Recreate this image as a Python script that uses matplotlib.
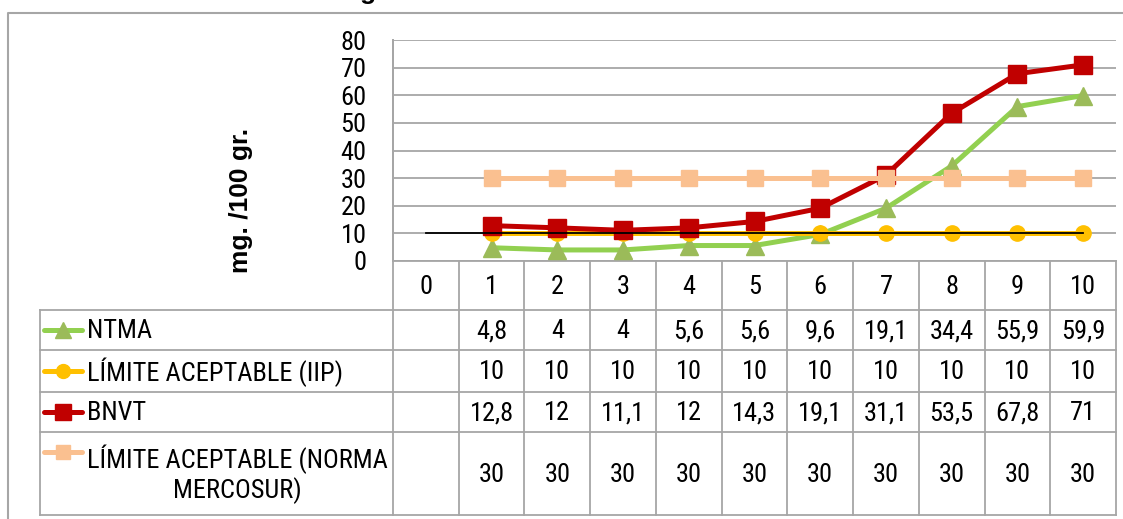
import matplotlib
matplotlib.use("Agg")
import matplotlib.pyplot as plt
from matplotlib import font_manager

# data
categories = [0, 1, 2, 3, 4, 5, 6, 7, 8, 9, 10]
days = [1, 2, 3, 4, 5, 6, 7, 8, 9, 10]
ntma = [4.8, 4, 4, 5.6, 5.6, 9.6, 19.1, 34.4, 55.9, 59.9]
limite_iip = [10, 10, 10, 10, 10, 10, 10, 10, 10, 10]
bnvt = [12.8, 12, 11.1, 12, 14.3, 19.1, 31.1, 53.5, 67.8, 71]
limite_mercosur = [30, 30, 30, 30, 30, 30, 30, 30, 30, 30]
ref_x = [0, 10]
ref_y = [10, 10]
y_ticks = [0, 10, 20, 30, 40, 50, 60, 70, 80]
series_labels = ["NTMA", "LÍMITE ACEPTABLE (IIP)", "BNVT",
                 "LÍMITE ACEPTABLE (NORMA\nMERCOSUR)"]

# pick a narrow face if one is there, else plain Arial metrics
names = {f.name for f in font_manager.fontManager.ttflist}
narrow_faces = [n for n in ["Liberation Sans Narrow", "Arial Narrow", "Roboto Condensed",
                            "Open Sans Condensed", "Noto Sans Condensed"] if n in names]
if narrow_faces:
    NARROW = [narrow_faces[0], "DejaVu Sans"]
    FS = 19
else:
    NARROW = ["Liberation Sans", "DejaVu Sans"]
    FS = 17
ARIAL = ["Liberation Sans", "DejaVu Sans"]
GRID = "#a6a6a6"

W, H = 1123, 519
fig = plt.figure(figsize=(W / 100, H / 100), dpi=100)

# pixel layout
L, R, T, B = 393, 1116, 40, 261
ax = fig.add_axes([L / W, 1 - B / H, (R - L) / W, (B - T) / H])

styles = [
    (ntma, dict(color="#92d050", marker="^", mfc="#9bbb59", mec="#9bbb59", ms=13)),
    (limite_iip, dict(color="#ffc000", marker="o", mfc="#ffc000", mec="#ffc000", ms=11)),
    (bnvt, dict(color="#c00000", marker="s", mfc="#c00000", mec="#c00000", ms=13)),
    (limite_mercosur, dict(color="#fac090", marker="s", mfc="#fac090", mec="#fac090", ms=11)),
]
for z, (vals, st) in enumerate(styles):
    ax.plot(days, vals, lw=3.6, zorder=3 + z, clip_on=False, **st)
ax.plot(ref_x, ref_y, color="black", lw=1.3, zorder=10)

ax.set_xlim(-0.5, 10.5)
ax.set_ylim(0, 80)
ax.set_xticks([])
ax.set_yticks(y_ticks)
ax.set_yticklabels([str(t) for t in y_ticks], family=NARROW, fontsize=FS)
ax.tick_params(axis="y", length=0, pad=19)
ax.grid(axis="y", color=GRID, lw=1.3)
for s in ["top", "right", "bottom"]:
    ax.spines[s].set_visible(False)
ax.spines["left"].set_color(GRID)
ax.spines["left"].set_linewidth(1.3)
ax.set_facecolor("none")

# overlay in pixel coordinates for the frame and data table
ov = fig.add_axes([0, 0, 1, 1], zorder=-1)
ov.set_xlim(0, W)
ov.set_ylim(H, 0)
ov.axis("off")

# outer frame
ov.plot([8, 8, W], [H, 13, 13], color="#a6a6a6", lw=1.5)

col_w = (R - L) / len(categories)
tab_left = 40
row_edges = [B, 310, 350, 392, 432, 515]

# horizontal lines
ov.plot([L, R], [B, B], color=GRID, lw=1.3)
for yv in row_edges[1:]:
    ov.plot([tab_left, R], [yv, yv], color=GRID, lw=1.3)
# vertical lines
ov.plot([tab_left, tab_left], [row_edges[1], row_edges[-1]], color=GRID, lw=1.3)
for i in range(len(categories) + 1):
    xv = L + i * col_w
    ov.plot([xv, xv], [T if i == 0 else B, row_edges[-1]], color=GRID, lw=1.3)

# header row
for i, c in enumerate(categories):
    ov.text(L + (i + 0.5) * col_w, (row_edges[0] + row_edges[1]) / 2 + 1, str(c),
            ha="center", va="center", family=NARROW, fontsize=FS)

# data rows
for r, ((vals, st), lab) in enumerate(zip(styles, series_labels)):
    yc = (row_edges[r + 1] + row_edges[r + 2]) / 2
    ky = yc if r < 3 else row_edges[r + 1] + 20
    ov.plot([44, 82], [ky, ky], color=st["color"], lw=3.6, solid_capstyle="round")
    ov.plot([63], [ky], marker=st["marker"], ms=st["ms"] - 1, color=st["mfc"],
            mec=st["mec"], ls="none")
    ov.text(87, yc + 1, lab, ha="left", va="center", multialignment="center",
            family=NARROW, fontsize=FS, linespacing=1.15)
    for d, v in zip(days, vals):
        ov.text(L + (categories.index(d) + 0.5) * col_w, yc + 1,
                f"{v:g}".replace(".", ","), ha="center", va="center",
                family=NARROW, fontsize=FS)

# y axis title
fig.text(241 / W, 1 - 200 / H, "mg. /100 gr.", rotation=90, ha="center", va="center",
         family=ARIAL, fontweight="bold", fontsize=19)

# clipped title fragment at the top (only the descender shows)
fig.text(368 / W, 1 + 1 / H, "g", ha="center", va="baseline",
         family=ARIAL, fontweight="bold", fontsize=19)

fig.savefig("out.png", dpi=100)
